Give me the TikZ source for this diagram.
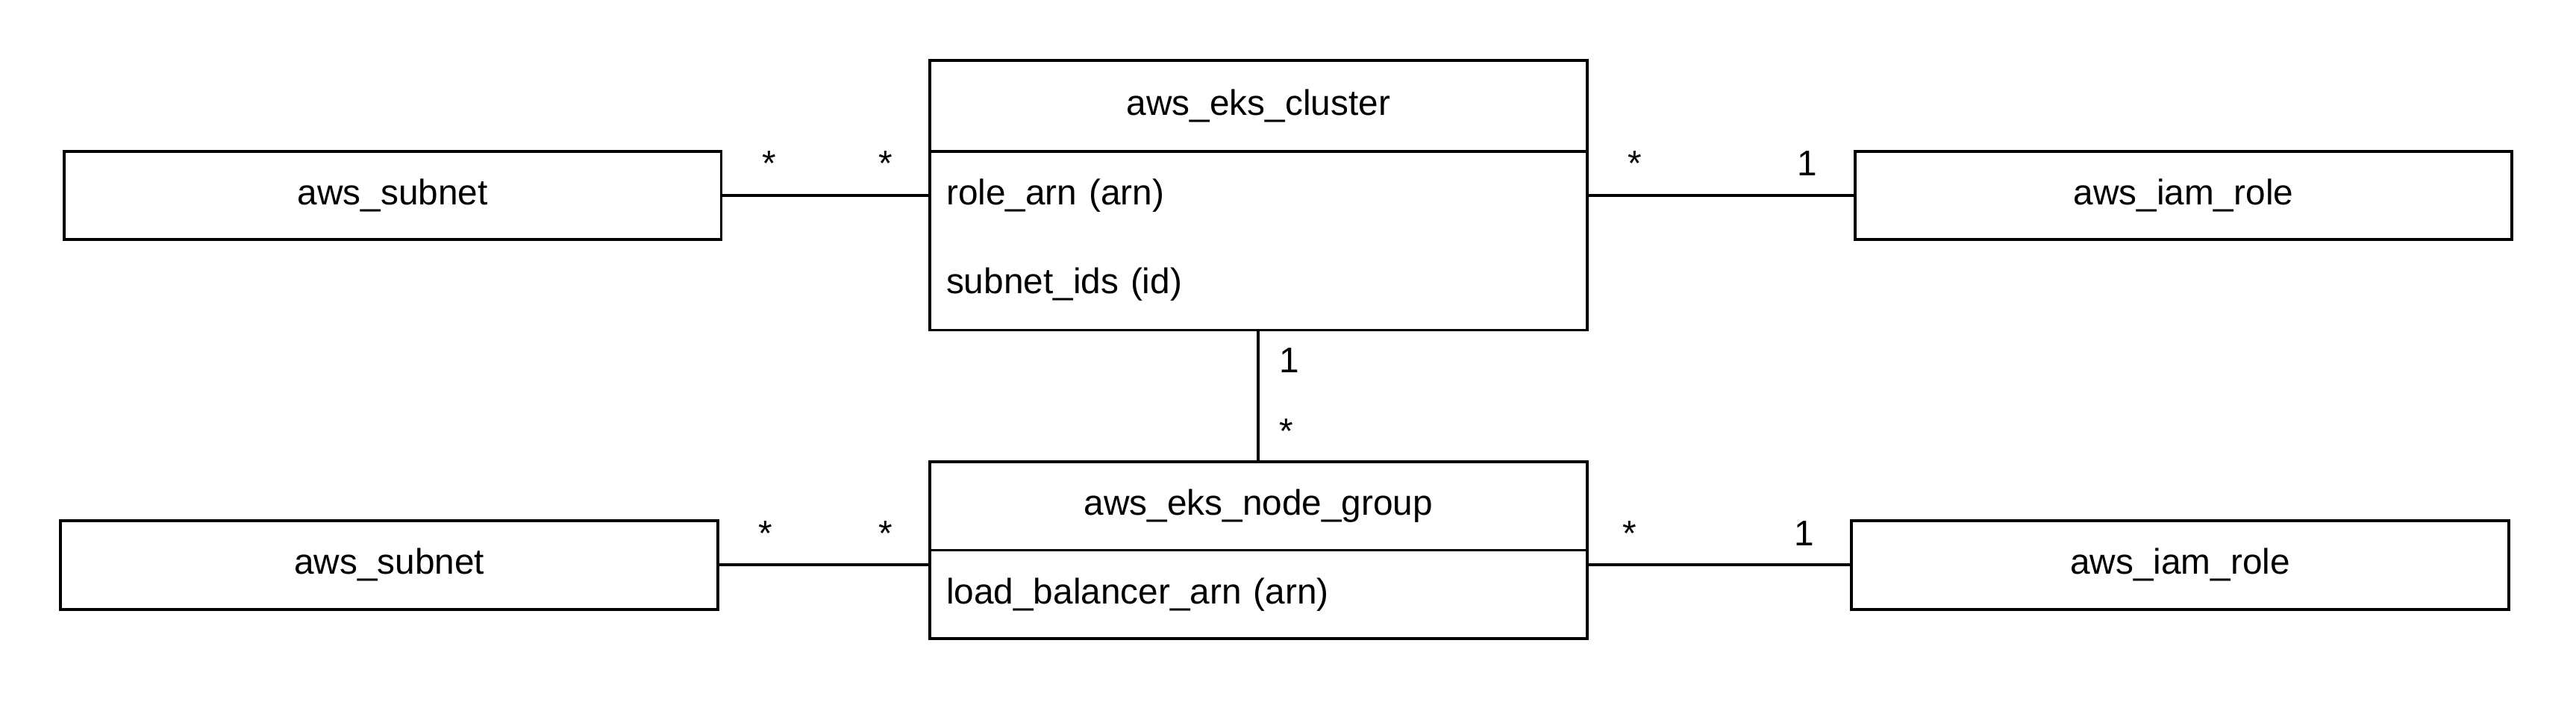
\documentclass[tikz,border=0pt]{standalone}
\usepackage{fontspec}
\setmainfont{Liberation Sans}
\begin{document}
\begin{tikzpicture}[
  x=1pt,y=-1pt,
  every node/.style={font=\fontsize{21.7}{26}\selectfont},
  entity/.style={rectangle,draw,line width=1.8pt,minimum width=400pt,minimum height=54pt,inner sep=0pt},
  attr/.style={entity,text width=380pt,inner xsep=10pt,align=left},
  link/.style={line width=1.8pt},
  mult/.style={inner sep=0pt},
  near start/.style={mult,pos=0,anchor=south west,xshift=23pt,yshift=11pt},
  near end/.style={mult,pos=1,anchor=south east,xshift=-21pt,yshift=11pt}
]
\useasboundingbox (0,0) rectangle (1568,427);

\node[entity] (subnetA) at (239,119) {aws\_subnet};
\node[entity,minimum height=55pt] (cluster) at (766,64.5) {aws\_eks\_cluster};
\node[entity,minimum height=109pt] (clusterbody) at (766,146.5) {};
\node[attr,draw=none] (rolearn) at (766,119) {role\_arn (arn)};
\node[attr,draw=none] (subnetids) at (766,173) {subnet\_ids (id)};
\node[entity] (iamA) at (1329,119) {aws\_iam\_role};

\node[entity] (group) at (766,308) {aws\_eks\_node\_group};
\node[attr] (lbarn) at (766,362) {load\_balancer\_arn (arn)};
\node[entity] (subnetB) at (237,344) {aws\_subnet};
\node[entity] (iamB) at (1327,344) {aws\_iam\_role};

\draw[link] (subnetA.east) -- (rolearn.west)
  node[near start] {*} node[near end] {*};
\draw[link] (rolearn.east) -- (iamA.west)
  node[near start] {*} node[near end] {1};
\draw[link] (clusterbody.south) -- (group.north)
  node[mult,pos=0,anchor=north west,xshift=12pt,yshift=-9pt] {1}
  node[mult,pos=1,anchor=south west,xshift=12pt,yshift=9pt] {*};
\draw[link] (subnetB.east) -- (subnetB.east -| lbarn.west)
  node[near start] {*} node[near end] {*};
\draw[link] (iamB.west -| lbarn.east) -- (iamB.west)
  node[near start,xshift=-3pt] {*} node[near end] {1};
\end{tikzpicture}
\end{document}
